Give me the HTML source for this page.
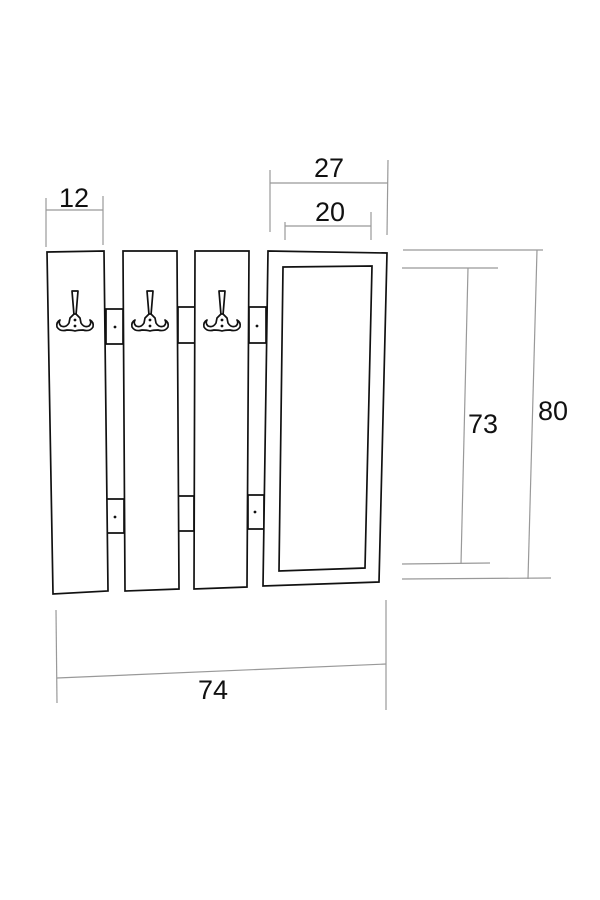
<!DOCTYPE html>
<html><head><meta charset="utf-8"><style>html,body{margin:0;padding:0;background:#fff}svg{display:block}</style></head>
<body>
<svg width="600" height="900" viewBox="0 0 600 900" xmlns="http://www.w3.org/2000/svg">
<defs>
<g id="hook" fill="#fff" stroke="#111" stroke-width="1.7" stroke-linejoin="round">
  <path d="M-3,-28 L3,-28 L1,-4 L-1,-4 Z"/>
  <path d="M-1,-5 L1,-5 L5,-1 L6,4 Q9,9 14,7 Q17,4 15,1 Q19,3 18,8 Q15,13 8,11 Q3,11 0,12 Q-3,11 -8,11 Q-15,13 -18,8 Q-19,3 -15,1 Q-17,4 -14,7 Q-9,9 -6,4 L-5,-1 Z"/>
  <circle cx="0" cy="1" r="1.4" fill="#111" stroke="none"/>
  <circle cx="0" cy="7" r="1.4" fill="#111" stroke="none"/>
</g>
</defs>
<g fill="#fff" stroke="#111" stroke-width="1.7">
  <path d="M106,309 L123,309 L123,344 L106,344 Z"/>
  <path d="M106,499 L124,499 L124,533 L106,533 Z"/>
  <path d="M178,307 L195,307 L195,343 L178,343 Z"/>
  <path d="M178,496 L194,496 L194,531 L178,531 Z"/>
  <path d="M249,307 L266,307 L266,343 L249,343 Z"/>
  <path d="M248,495 L264,495 L264,529 L248,529 Z"/>
  <path d="M47,252 L104,251 L108,591 L53,594 Z"/>
  <path d="M123,251 L177,251 L179,589 L125,591 Z"/>
  <path d="M195,251 L249,251 L247,587 L194,589 Z"/>
  <path d="M268,251 L387,253 L379,582 L263,586 Z"/>
  <path d="M283,267 L372,266 L365,568 L279,571 Z"/>
</g>
<g fill="#111">
  <circle cx="115" cy="327" r="1.4"/><circle cx="115" cy="517" r="1.4"/>
  <circle cx="257" cy="326" r="1.4"/><circle cx="255" cy="512" r="1.4"/>
</g>
<use href="#hook" x="75" y="319"/>
<use href="#hook" x="150" y="319"/>
<use href="#hook" x="222" y="319"/>
<g stroke="#999" stroke-width="1.2" fill="none">
  <line x1="46" y1="198" x2="46" y2="247"/><line x1="103" y1="196" x2="103" y2="245"/><line x1="46" y1="210" x2="103" y2="210"/>
  <line x1="270" y1="170" x2="270" y2="232"/><line x1="388" y1="160" x2="387" y2="235"/><line x1="270" y1="183" x2="388" y2="183"/>
  <line x1="285" y1="222" x2="285" y2="240"/><line x1="371" y1="212" x2="371" y2="240"/><line x1="285" y1="226" x2="371" y2="226"/>
  <line x1="56" y1="610" x2="57" y2="703"/><line x1="386" y1="600" x2="386" y2="710"/><line x1="57" y1="678" x2="386" y2="664"/>
  <line x1="403" y1="250" x2="543" y2="250"/><line x1="402" y1="579" x2="551" y2="578"/><line x1="537" y1="250" x2="528" y2="579"/>
  <line x1="402" y1="268" x2="498" y2="268"/><line x1="402" y1="564" x2="490" y2="563"/><line x1="468" y1="268" x2="461" y2="564"/>
</g>
<g font-family="Liberation Sans, sans-serif" font-size="27" fill="#111" text-anchor="middle">
  <text x="74" y="207">12</text>
  <text x="329" y="177">27</text>
  <text x="330" y="221">20</text>
  <text x="213" y="699">74</text>
  <text x="483" y="433">73</text>
  <text x="553" y="420">80</text>
</g>
</svg>
</body></html>
